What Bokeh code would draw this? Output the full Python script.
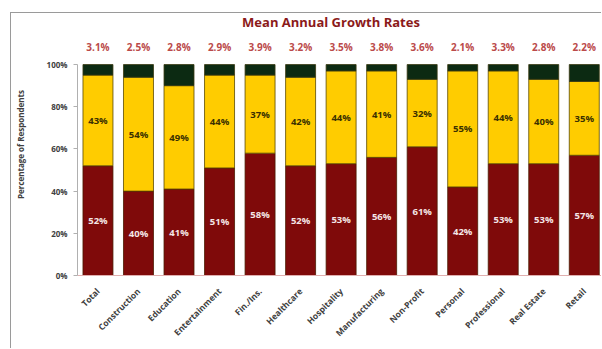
import math
from bokeh.plotting import figure
from bokeh.models import ColumnDataSource, Range1d, FixedTicker
from bokeh.core.properties import value
from bokeh.embed import file_html
from bokeh.resources import INLINE

categories = ["Total", "Construction", "Education", "Entertainment", "Fin./Ins.", "Healthcare",
              "Hospitality", "Manufacturing", "Non-Profit", "Personal", "Professional",
              "Real Estate", "Retail"]
bottom_pct = [52, 40, 41, 51, 58, 52, 53, 56, 61, 42, 53, 53, 57]
middle_pct = [43, 54, 49, 44, 37, 42, 44, 41, 32, 55, 44, 40, 35]
top_pct = [5, 6, 10, 5, 5, 6, 3, 3, 7, 3, 3, 7, 8]
growth = ["3.1%", "2.5%", "2.8%", "2.9%", "3.9%", "3.2%", "3.5%", "3.8%", "3.6%",
          "2.1%", "3.3%", "2.8%", "2.2%"]
y_ticks = [0, 20, 40, 60, 80, 100]

RED = "#7f0a0a"
YEL = "#ffcc00"
GRN = "#0c2a12"
FONT = "Open Sans"

x = list(range(len(categories)))
t2 = [a + b for a, b in zip(bottom_pct, middle_pct)]
t3 = [a + b for a, b in zip(t2, top_pct)]

src = ColumnDataSource(dict(
    x=x, b1=[0] * len(x), t1=bottom_pct, b2=bottom_pct, t2=t2, t3=t3,
    lab1=[f"{v}%" for v in bottom_pct],
    lab2=[f"{v}%" for v in middle_pct],
    y1=[v / 2 for v in bottom_pct],
    y2=[a + b / 2 for a, b in zip(bottom_pct, middle_pct)],
    g=growth,
    gy=[108.5] * len(x),
))

p = figure(width=591, height=336, output_backend="svg", toolbar_location=None,
           x_range=Range1d(-0.505, 12.45), y_range=Range1d(0, 124.2),
           min_border_left=65, min_border_right=0, min_border_top=0, min_border_bottom=74)
p.styles = {"border-left": "1px solid #9a9a9a", "border-top": "1px solid #9a9a9a",
            "margin-left": "10px", "margin-top": "12px"}
p.outline_line_color = None
p.grid.visible = False

w = 0.74
p.vbar(x="x", bottom="b1", top="t1", width=w, source=src, fill_color=RED, line_color="#4a1a00", line_width=0.8)
p.vbar(x="x", bottom="b2", top="t2", width=w, source=src, fill_color=YEL, line_color="#5a4a00", line_width=0.8)
p.vbar(x="x", bottom="t2", top="t3", width=w, source=src, fill_color=GRN, line_color="#3a3a10", line_width=0.8)

p.text(x="x", y="y1", text="lab1", source=src, text_align="center", text_baseline="middle",
       text_color="#f4e6e6", text_font=value(FONT), text_font_size="9.5px", text_font_style="bold")
p.text(x="x", y="y2", text="lab2", source=src, text_align="center", text_baseline="middle",
       text_color="#3a3000", text_font=value(FONT), text_font_size="9.5px", text_font_style="bold")
p.text(x="x", y="gy", text="g", source=src, text_align="center", text_baseline="middle",
       text_color="#bb4a4a", text_font=value(FONT), text_font_size="10px", text_font_style="bold")

title_x = [5.75]
p.text(x=title_x, y=[120.3], text=["Mean Annual Growth Rates"], text_align="center",
       text_baseline="middle", text_color="#8b1a1a", text_font=value(FONT),
       text_font_size="13px", text_font_style="bold")

# y axis
ya = p.yaxis[0]
ya.ticker = FixedTicker(ticks=y_ticks)
ya.major_label_overrides = {t: f"{t}%" for t in y_ticks}
ya.bounds = (0, 100)
ya.axis_line_color = "#b0b0b0"
ya.major_tick_line_color = "#b0b0b0"
ya.major_tick_out = 4
ya.major_tick_in = 0
ya.minor_tick_line_color = None
ya.major_label_text_font = FONT
ya.major_label_text_font_size = "8px"
ya.major_label_text_font_style = "bold"
ya.major_label_text_color = "#404040"
ya.major_label_standoff = 6
ya.axis_label = "Percentage of Respondents"
ya.axis_label_text_font = FONT
ya.axis_label_text_font_size = "8px"
ya.axis_label_text_font_style = "bold"
ya.axis_label_text_color = "#404040"
ya.axis_label_standoff = 18

# x axis
xa = p.xaxis[0]
xa.ticker = FixedTicker(ticks=x)
xa.major_label_overrides = {i: c for i, c in zip(x, categories)}
xa.major_label_orientation = math.pi / 4
xa.axis_line_color = "#e0b0b0"
xa.major_tick_line_color = None
xa.minor_tick_line_color = None
xa.major_label_text_font = FONT
xa.major_label_text_font_size = "8.5px"
xa.major_label_text_font_style = "bold"
xa.major_label_text_color = "#404040"
xa.major_label_standoff = 8

open("out.html", "w").write(file_html(p, INLINE))
